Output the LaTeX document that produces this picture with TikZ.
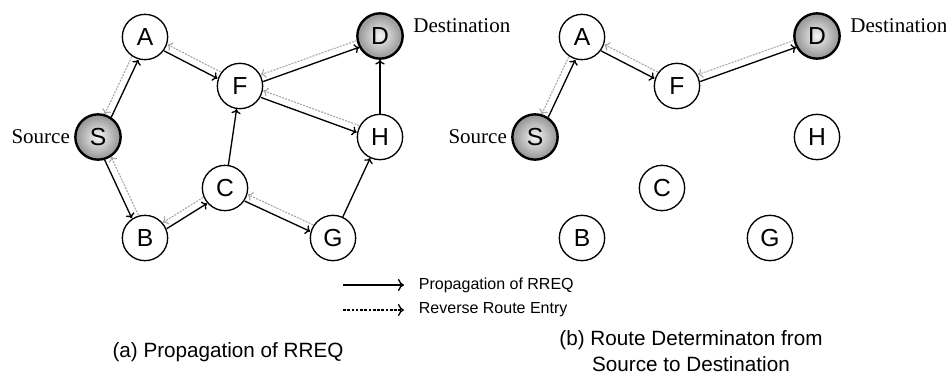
\documentclass[tikz,border=0pt]{standalone}
\usepackage{fontspec}
\setmainfont{Liberation Serif}
\setsansfont{Liberation Sans}
\usetikzlibrary{positioning,calc,arrows.meta}

\tikzset{
  nut/.style={circle,draw,line width=1pt,fill=white,minimum size=34pt,inner sep=0pt,
    font=\sffamily\fontsize{18.5}{18.5}\selectfont},
  dau/.style={nut,line width=1.8pt,inner color=gray!8,outer color=gray!85},
  lan/.style={-{To[length=3.5pt,width=7pt]},line width=1pt},
  nguoc/.style={-{To[length=3.5pt,width=7pt]},gray!70,line width=0.8pt,dash pattern=on 1.5pt off 0.9pt},
  nhan/.style={inner sep=0pt,font=\fontsize{15.75}{16}\selectfont},
  chuthich/.style={inner xsep=11pt,inner ysep=0pt,anchor=west,font=\sffamily\fontsize{12}{12}\selectfont},
  tieude/.style={align=center,font=\sffamily\fontsize{15.5}{20}\selectfont}
}

% mũi tên liền #1 -> #2, mũi tên chấm #2 -> #1 song song
\newcommand{\capcanh}[2]{
  \draw[lan,shorten <=17.6pt,shorten >=17.6pt] ($(#1)!2.7pt!-90:(#2)$) -- ($(#2)!2.7pt!90:(#1)$);
  \draw[nguoc,shorten <=17.6pt,shorten >=17.6pt] ($(#2)!2.7pt!-90:(#1)$) -- ($(#1)!2.7pt!90:(#2)$);
}

\begin{document}
\begin{tikzpicture}[x=0.75pt,y=-0.75pt]
  \useasboundingbox (0,0) rectangle (946,378);

  % Hai mạng: (a) bên trái, (b) bên phải
  \foreach \p/\dx in {1/0,2/437}{
    \begin{scope}[shift={(\dx,0)}]
      \node[nut] (A\p) at (145,37) {A};
      \node[nut] (F\p) at (240,86) {F};
      \node[dau] (D\p) at (380,36) {D};
      \node[dau] (S\p) at (98,137) {S};
      \node[nut] (H\p) at (380,137) {H};
      \node[nut] (C\p) at (225,188) {C};
      \node[nut] (B\p) at (145,238) {B};
      \node[nut] (G\p) at (333,238) {G};
      \node[nhan] (src\p) [left=3pt of S\p] {Source};
      \node[nhan] (dst\p) [right=7pt of D\p,yshift=8pt] {Destination};
    \end{scope}
  }

  % (a) Lan truyền RREQ
  \capcanh{S1}{A1}
  \capcanh{A1}{F1}
  \capcanh{S1}{B1}
  \capcanh{B1}{C1}
  \capcanh{C1}{G1}
  \capcanh{F1}{D1}
  \capcanh{F1}{H1}
  \draw[lan] (C1) -- (F1);
  \draw[lan] (G1) -- (H1);
  \draw[lan] (H1) -- (D1);

  % (b) Đường đi từ S đến D
  \capcanh{S2}{A2}
  \capcanh{A2}{F2}
  \capcanh{F2}{D2}

  % Chú thích
  \coordinate (l1) at (343,285);
  \coordinate (l2) at (343,310);
  \node[chuthich] (t1) at (404,285) {Propagation of RREQ};
  \node[chuthich] (t2) at (404,310) {Reverse Route Entry};
  \draw[-{To[length=4.5pt,width=9pt]},line width=1pt] (l1) -- (t1);
  \draw[-{To[length=4.5pt,width=9pt]},line width=1pt,dash pattern=on 2pt off 1.2pt] (l2) -- (t2);

  \node[tieude] (capa) at (228,352) {(a) Propagation of RREQ};
  \node[tieude] (capb) at (691,351) {(b) Route Determinaton from\\Source to Destination};
\end{tikzpicture}
\end{document}
